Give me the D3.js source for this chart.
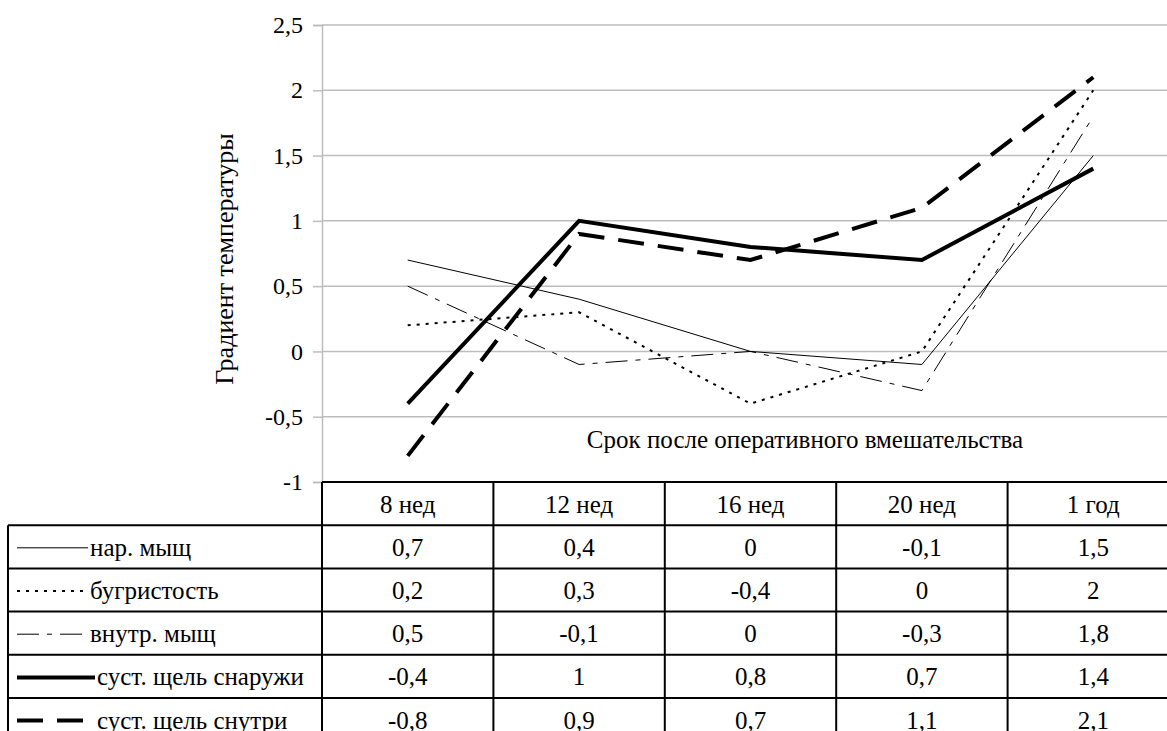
<!DOCTYPE html>
<html>
<head>
<meta charset="utf-8">
<script src="https://cdn.jsdelivr.net/npm/d3@7"></script>
</head>
<body style="margin:0;background:#fff">
<div id="chart"></div>
<script>
// periods after surgery
let periods = ["8 нед", "12 нед", "16 нед", "20 нед", "1 год"];
let seriesNames = ["нар. мыщ", "бугристость", "внутр. мыщ", "суст. щель снаружи", "суст. щель снутри"];
let narMysh = [0.7, 0.4, 0, -0.1, 1.5];
let bugristost = [0.2, 0.3, -0.4, 0, 2];
let vnutrMysh = [0.5, -0.1, 0, -0.3, 1.8];
let sustSnaruzhi = [-0.4, 1, 0.8, 0.7, 1.4];
let sustSnutri = [-0.8, 0.9, 0.7, 1.1, 2.1];
let yTicks = [-1, -0.5, 0, 0.5, 1, 1.5, 2, 2.5];

let seriesValues = [narMysh, bugristost, vnutrMysh, sustSnaruzhi, sustSnutri];
// line styles per series
let styles = [
    {w: 1, dash: null},
    {w: 2, dash: "3,6"},
    {w: 1, dash: "22,8,5,8"},
    {w: 4, dash: null},
    {w: 4, dash: "26,14"}
];

const W = 1167, H = 731;
const plotLeft = 322, plotRight = 1179, plotTop = 25, plotBottom = 482;
const rowH = 43.2;
const legendLeft = 8;
const FONT = "'Liberation Serif', 'Times New Roman', serif";

let svg = d3.select("#chart").append("svg")
    .attr("width", W)
    .attr("height", H)
    .style("font-family", FONT);

let x = d3.scaleBand().domain(periods).range([plotLeft, plotRight]).padding(0);
let y = d3.scaleLinear().domain([-1, 2.5]).range([plotBottom, plotTop]);
let fmt = d => String(d).replace(".", ",");

// gridlines
svg.append("g")
    .selectAll("line")
    .data(yTicks.filter(d => d > -1))
    .enter()
    .append("line")
    .attr("x1", plotLeft).attr("x2", W)
    .attr("y1", d => y(d)).attr("y2", d => y(d))
    .attr("stroke", "#bdbdbd")
    .attr("stroke-width", 1.5);

// y axis
let yAxis = svg.append("g")
    .attr("transform", `translate(${plotLeft},0)`)
    .call(d3.axisLeft(y).tickValues(yTicks).tickSize(9).tickPadding(10).tickFormat(fmt));
yAxis.select(".domain").attr("stroke", "#bdbdbd").attr("stroke-width", 1.5);
yAxis.selectAll(".tick line").attr("stroke", "#bdbdbd").attr("stroke-width", 1.5);
yAxis.selectAll("text")
    .style("font-family", FONT)
    .style("font-size", "24px")
    .style("fill", "#000");

// axis titles
svg.append("text")
    .attr("transform", `translate(233,259) rotate(-90)`)
    .attr("text-anchor", "middle")
    .style("font-size", "26px")
    .text("Градиент температуры");

svg.append("text")
    .attr("x", 805)
    .attr("y", 448)
    .attr("text-anchor", "middle")
    .style("font-size", "25px")
    .text("Срок после оперативного вмешательства");

// lines
let line = d3.line()
    .x((d, i) => x(periods[i]) + x.bandwidth() / 2)
    .y(d => y(d));

svg.append("g")
    .selectAll("path")
    .data(seriesValues)
    .enter()
    .append("path")
    .attr("d", d => line(d))
    .attr("fill", "none")
    .attr("stroke", "#000")
    .attr("stroke-width", (d, i) => styles[i].w)
    .attr("stroke-dasharray", (d, i) => styles[i].dash)
    .attr("stroke-linejoin", "miter");

// data table
let table = svg.append("g").style("font-size", "25px");
let rowY = i => plotBottom + rowH * i;

// header
table.selectAll(".head")
    .data(periods)
    .enter()
    .append("text")
    .attr("class", "head")
    .attr("x", d => x(d) + x.bandwidth() / 2)
    .attr("y", rowY(0) + rowH / 2 + 9)
    .attr("text-anchor", "middle")
    .text(d => d);

// value cells
seriesValues.forEach((vals, r) => {
    table.append("g")
        .selectAll("text")
        .data(vals)
        .enter()
        .append("text")
        .attr("x", (d, i) => x(periods[i]) + x.bandwidth() / 2)
        .attr("y", rowY(r + 1) + rowH / 2 + 9)
        .attr("text-anchor", "middle")
        .text(d => fmt(d));

    // legend key + name
    let ky = rowY(r + 1) + rowH / 2 + 1;
    table.append("line")
        .attr("x1", 17).attr("x2", styles[r].w > 2 ? 95 : 88)
        .attr("y1", ky).attr("y2", ky)
        .attr("stroke", "#000")
        .attr("stroke-width", styles[r].w)
        .attr("stroke-dasharray", styles[r].dash);
    table.append("text")
        .attr("x", styles[r].w > 2 ? 97 : 90)
        .attr("y", rowY(r + 1) + rowH / 2 + 9)
        .text(seriesNames[r]);
});

// table grid
let nRows = seriesValues.length + 1;
let hLines = d3.range(nRows + 1);
table.selectAll(".hline")
    .data(hLines)
    .enter()
    .append("line")
    .attr("x1", d => d === 0 ? plotLeft : legendLeft)
    .attr("x2", W)
    .attr("y1", d => rowY(d)).attr("y2", d => rowY(d))
    .attr("stroke", "#000")
    .attr("stroke-width", 2);

table.selectAll(".vline")
    .data(periods)
    .enter()
    .append("line")
    .attr("x1", d => x(d)).attr("x2", d => x(d))
    .attr("y1", rowY(0)).attr("y2", rowY(nRows))
    .attr("stroke", "#000")
    .attr("stroke-width", 2);

table.append("line")
    .attr("x1", legendLeft).attr("x2", legendLeft)
    .attr("y1", rowY(1)).attr("y2", rowY(nRows))
    .attr("stroke", "#000")
    .attr("stroke-width", 2);

svg.selectAll("text").style("fill", "#000");
</script>
</body>
</html>
